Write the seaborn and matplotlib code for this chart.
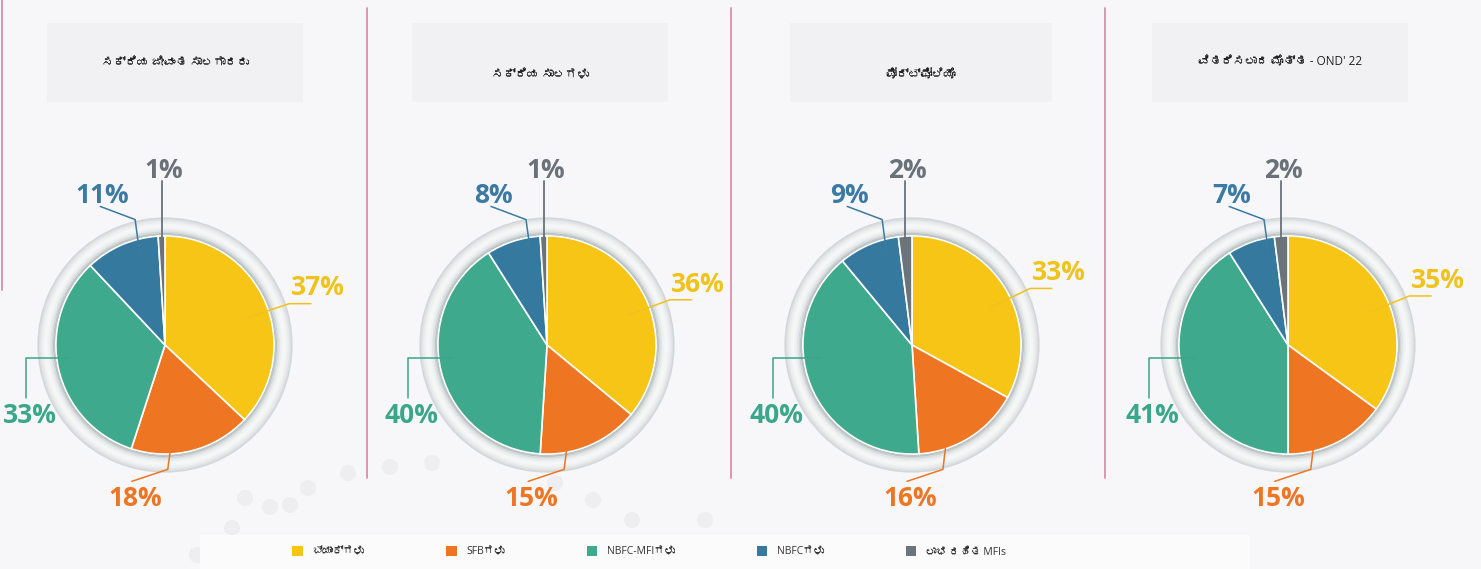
import numpy as np
import matplotlib
matplotlib.use("Agg")
import matplotlib.pyplot as plt
import seaborn as sns
from matplotlib import font_manager
from matplotlib.ft2font import FT2Font
from matplotlib.patches import Wedge, Rectangle, Circle, Patch

# ---- data ----
categories = ["ಬ್ಯಾಂಕ್ಗಳು", "SFBಗಳು", "NBFC-MFIಗಳು", "NBFCಗಳು", "ಲಾಭ ರಹಿತ MFIs"]
panel_titles = ["ಸಕ್ರಿಯ ಜೀವಂತ ಸಾಲಗಾರರು", "ಸಕ್ರಿಯ ಸಾಲಗಳು", "ಪೋರ್ಟ್ಫೋಲಿಯೊ",
                "ವಿತರಿಸಲಾದ ಮೊತ್ತ - OND' 22"]
active_borrowers = [37, 18, 33, 11, 1]
active_loans = [36, 15, 40, 8, 1]
portfolio = [33, 16, 40, 9, 2]
disbursed = [35, 15, 41, 7, 2]
panels = [active_borrowers, active_loans, portfolio, disbursed]

# ---- style ----
sns.set_theme(style="white")

# look for any installed font that covers Kannada
kn_family = None
for f in font_manager.fontManager.ttflist:
    try:
        if FT2Font(f.fname).get_char_index(0x0C95):
            kn_family = f.name
            break
    except Exception:
        pass
families = ["Open Sans", "DejaVu Sans"]
if kn_family:
    families.insert(1, kn_family)
plt.rcParams["font.family"] = families

palette = sns.color_palette(["#f6c516", "#ee7522", "#3ea98d", "#35799f", "#6b747b"])
label_colors = ["#f0c21c", "#ee7522", "#3aa68a", "#3a7aa3", "#6a7279"]
bg = "#f7f7f9"

W, H = 1481, 569
fig = plt.figure(figsize=(W / 100, H / 100), dpi=100, facecolor=bg)

# background layer in pixel coordinates (separators, title boxes, dots)
bgax = fig.add_axes([0, 0, 1, 1], zorder=0)
bgax.set_xlim(0, W)
bgax.set_ylim(H, 0)
bgax.axis("off")

for x in [367, 731, 1105]:
    bgax.plot([x, x], [8, 478], color="#d88fa6", lw=1.3)
bgax.plot([1.5, 1.5], [0, 290], color="#d88fa6", lw=1.3)

boxes = [(47, 303), (412, 668), (790, 1052), (1152, 1408)]
title_y = [62, 75, 75, 62]
for (x0, x1), ty, title in zip(boxes, title_y, panel_titles):
    bgax.add_patch(Rectangle((x0, 23), x1 - x0, 79, color="#f1f1f3", lw=0))
    bgax.text((x0 + x1) / 2, ty, title, ha="center", va="center",
              fontsize=8.5, color="#222222")

dots = [(348, 473), (390, 467), (432, 463), (308, 488), (270, 507), (232, 528),
        (197, 555), (555, 483), (593, 500), (632, 520), (667, 547), (705, 520),
        (290, 505), (245, 498)]
for dx, dy in dots:
    bgax.add_patch(Circle((dx, dy), 8, color="#eeeef0", lw=0))

# legend band
bgax.add_patch(Rectangle((200, 535), 1050, 34, color="#fbfbfc", lw=0))

# ---- pies ----
centers_x = [165, 547, 912, 1288]
cy = 345
S = 360
ring_greys = ["#a7afb2", "#bcc3c5", "#d2d7d8", "#e2e5e6", "#eceeef", "#f3f4f4",
              "#f6f7f7", "#f4f5f5", "#eff1f1", "#e8eaeb", "#dfe2e3", "#d3d7d9"]

for cx, values in zip(centers_x, panels):
    ax = fig.add_axes([(cx - S / 2) / W, 1 - (cy + S / 2) / H, S / W, S / H], zorder=2)

    # grey 3D-looking ring around the pie
    r_in, r_out = 1.0, 1.17
    step = (r_out - r_in) / len(ring_greys)
    for k, c in enumerate(ring_greys):
        ax.add_patch(Wedge((0, 0), r_in + (k + 1) * step, 0, 360, width=step + 0.002,
                           color=c, lw=0))

    wedges, _ = ax.pie(values, colors=palette, startangle=90, counterclock=False,
                       radius=1.0, wedgeprops=dict(edgecolor="white", linewidth=1.2))
    ax.set_xlim(-1.65, 1.65)
    ax.set_ylim(-1.65, 1.65)
    ax.set_aspect("equal")
    ax.axis("off")

    for i, (w, v) in enumerate(zip(wedges, values)):
        mid = np.deg2rad((w.theta1 + w.theta2) / 2)
        col = label_colors[i]
        txt = f"{v}%"
        kw = dict(fontsize=19, fontweight="bold", color=col, ha="center", clip_on=False)
        if i == 0:      # right: diagonal out, then horizontal
            m = mid - np.deg2rad(5)
            a = 0.8 * np.array([np.cos(m), np.sin(m)])
            e = 1.2 * np.array([np.cos(m), np.sin(m)])
            t = e + np.array([0.2, 0])
            ax.plot([a[0], e[0], t[0]], [a[1], e[1], t[1]], color=col, lw=1.1)
            ax.text(t[0] + 0.06, t[1] + 0.02, txt, va="bottom", **kw)
        elif i == 1:    # bottom: straight down, then left
            m = mid - np.deg2rad(10)
            a = 0.85 * np.array([np.cos(m), np.sin(m)])
            e = np.array([a[0] - 0.04, -1.14])
            t = e + np.array([-0.33, -0.11])
            ax.plot([a[0], e[0], t[0]], [a[1], e[1], t[1]], color=col, lw=1.1)
            ax.text(t[0] + 0.03, t[1] - 0.03, txt, va="top", **kw)
        elif i == 2:    # left: horizontal, then down
            a = 0.9 * np.array([np.cos(mid), np.sin(mid)])
            a[1] = max(a[1], -0.12)
            e = np.array([-1.27, a[1]])
            t = e + np.array([0, -0.37])
            ax.plot([a[0], e[0], t[0]], [a[1], e[1], t[1]], color=col, lw=1.1)
            ax.text(t[0] + 0.03, t[1] - 0.03, txt, va="top", **kw)
        elif i == 3:    # top-left: straight up, then left
            m = mid - np.deg2rad(8)
            a = 0.88 * np.array([np.cos(m), np.sin(m)])
            e = np.array([a[0] - 0.04, 1.15])
            t = e + np.array([-0.32, 0.12])
            ax.plot([a[0], e[0], t[0]], [a[1], e[1], t[1]], color=col, lw=1.1)
            ax.text(t[0] + 0.02, t[1] - 0.02, txt, va="bottom", **kw)
        else:           # top: vertical
            a = 0.95 * np.array([np.cos(mid), np.sin(mid)])
            t = np.array([a[0], 1.5])
            ax.plot([a[0], t[0]], [a[1], t[1]], color=col, lw=1.3)
            ax.text(t[0] + 0.02, t[1] - 0.02, txt, va="bottom", **kw)

# ---- legend ----
handles = [Patch(facecolor=c, edgecolor="none") for c in palette]
leg = fig.legend(handles, categories, ncol=5, loc="center left",
                 bbox_to_anchor=(283 / W, 1 - 552 / H), frameon=False,
                 fontsize=7.5, handlelength=1.0, handleheight=1.0,
                 handletextpad=0.9, columnspacing=7.9)
for t in leg.get_texts():
    t.set_color("#333333")

fig.savefig("out.png", dpi=100, facecolor=bg)
